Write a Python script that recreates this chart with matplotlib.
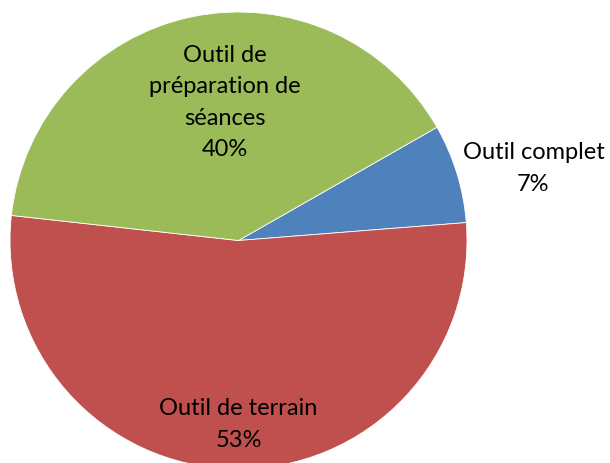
import matplotlib
matplotlib.use("Agg")
from matplotlib import pyplot as plt

# Share of tools (percent)
categories = ["Outil complet", "Outil de terrain", "Outil de\npréparation de\nséances"]
shares = [7, 53, 40]
colors = ["#4F81BD", "#C0504D", "#9BBB59"]

W, H = 610, 463
cx, cy, r = 238.5, H - 240.5, 228.5

fig = plt.figure(figsize=(W / 100, H / 100), dpi=100)
ax = fig.add_axes([0, 0, 1, 1])
ax.pie(shares, colors=colors, startangle=29.7, counterclock=False,
       center=(cx, cy), radius=r, frame=True,
       wedgeprops=dict(edgecolor="white", linewidth=0.6))
ax.set_xlim(0, W)
ax.set_ylim(0, H)
ax.set_aspect("equal")
ax.axis("off")

# label positions, offsets from pie centre in pixels
label_pos = [(295, 72), (0, -184), (-14, 138)]
for name, val, (dx, dy) in zip(categories, shares, label_pos):
    ax.text(cx + dx, cy + dy, "%s\n%d%%" % (name, val), ha="center", va="center",
            fontsize=17, family="Lato", linespacing=1.62, color="black")

fig.savefig("out.png", dpi=100)
